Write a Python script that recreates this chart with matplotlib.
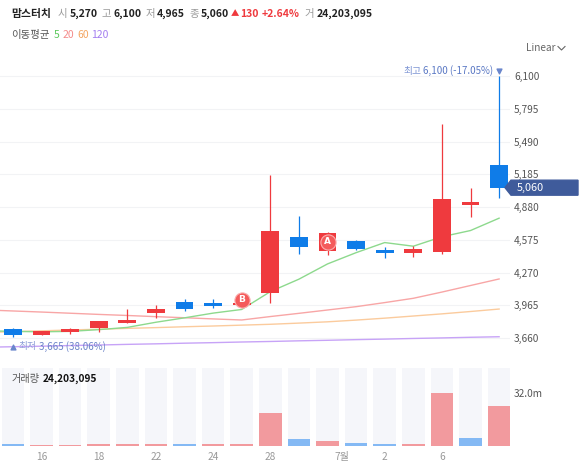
import matplotlib
matplotlib.use('Agg')
import matplotlib.pyplot as plt
from matplotlib.patches import Polygon
from matplotlib.lines import Line2D

plt.rcParams['font.family'] = ['Noto Sans CJK KR', 'DejaVu Sans']

# candles (index 0 .. 17)
opens  = [3745, 3690, 3720, 3750, 3805, 3890, 3995, 3985, 3965, 4075, 4600, 4470, 4565, 4480, 4455, 4465, 4900, 5270]
highs  = [3750, 3730, 3755, 3820, 3930, 3965, 4025, 4025, 4005, 5180, 4795, 4645, 4575, 4510, 4515, 5650, 5055, 6100]
lows   = [3665, 3685, 3695, 3715, 3800, 3850, 3910, 3940, 3955, 3985, 4440, 4430, 4480, 4405, 4415, 4440, 4785, 4965]
closes = [3690, 3725, 3740, 3815, 3825, 3930, 3930, 3960, 3985, 4655, 4510, 4640, 4485, 4455, 4485, 4950, 4930, 5060]

# moving averages, first value belongs to the day before (off screen)
ma5   = [3728, 3722, 3718, 3722, 3738, 3759, 3807, 3848, 3892, 3926, 4092, 4208, 4350, 4455, 4549, 4515, 4603, 4661, 4776]
ma20  = [3922, 3912, 3902, 3891, 3880, 3870, 3859, 3849, 3838, 3828, 3860, 3890, 3921, 3952, 3990, 4030, 4088, 4149, 4210]
ma60  = [3712, 3719, 3727, 3735, 3742, 3750, 3757, 3765, 3772, 3780, 3788, 3799, 3811, 3827, 3845, 3865, 3885, 3907, 3930]
ma120 = [3574, 3579, 3584, 3590, 3595, 3601, 3606, 3612, 3617, 3623, 3628, 3634, 3639, 3645, 3650, 3656, 3661, 3667, 3672]

# volume in millions, up = close above previous close
volume = [0.9, 0.3, 0.4, 0.8, 0.7, 0.7, 0.9, 0.7, 0.7, 20.1, 3.8, 2.8, 1.3, 0.9, 0.8, 32.0, 4.4, 24.2]
vol_up = [0, 1, 1, 1, 1, 1, 0, 1, 1, 1, 0, 1, 0, 0, 1, 1, 0, 1]

date_pos = [1, 3, 5, 7, 9, 11.5, 13, 15]
date_lbl = ['16', '18', '22', '24', '28', '7월', '2', '6']

price_ticks = [3660, 3965, 4270, 4575, 4880, 5185, 5490, 5795, 6100]

sig_idx = [8, 11]
sig_price = [4015, 4555]
sig_lbl = ['B', 'A']

RED = '#ef3a3e'
BLUE = '#0f7ce8'
W, H = 580, 469

fig = plt.figure(figsize=(W / 100, H / 100), dpi=100)
renderer = fig.canvas.get_renderer()


def px_axes(x0, y0, x1, y1):
    return fig.add_axes([x0 / W, 1 - y1 / H, (x1 - x0) / W, (y1 - y0) / H])


def ftxt(x, y, s, **kw):
    kw.setdefault('va', 'center')
    return fig.text(x / W, 1 - y / H, s, **kw)


def row(x, y, parts):
    # parts: (text, gap_after, kwargs) laid out left to right
    for s, gap, kw in parts:
        t = ftxt(x, y, s, **kw)
        x = t.get_window_extent(renderer).x1 + gap
    return x


def to_px(a, x, y):
    # data -> pixels from top-left
    px, py = a.transData.transform((x, y))
    return px, H - py


xlim = (-12.9 / 28.6, (510 - 12.9) / 28.6)

ax = px_axes(0, 60, 510, 355)
ax.set_xlim(*xlim)
ax.set_ylim(3502, 6249)
for s in ax.spines.values():
    s.set_visible(False)
for t in price_ticks:
    ax.axhline(t, color='#f2f3f5', lw=0.8, zorder=0)

xs = list(range(len(closes)))
ma_x = [-1] + xs
ax.plot(ma_x, ma120, color='#c7a3f7', lw=1.0, zorder=1)
ax.plot(ma_x, ma60, color='#fbcb9d', lw=1.0, zorder=1)
ax.plot(ma_x, ma20, color='#f8a6a6', lw=1.0, zorder=1)
ax.plot(ma_x, ma5, color='#8dd98d', lw=1.0, zorder=1)

for i in xs:
    o, h, l, c = opens[i], highs[i], lows[i], closes[i]
    col = RED if c >= o else BLUE
    ax.vlines(i, l, h, color=col, lw=0.9, zorder=2)
    lo, hi = min(o, c), max(o, c)
    if hi - lo < 25:
        mid = (hi + lo) / 2
        lo, hi = mid - 12, mid + 12
    ax.bar(i, hi - lo, bottom=lo, width=0.62, color=col, zorder=3)

for i, p, lb in zip(sig_idx, sig_price, sig_lbl):
    ax.scatter([i], [p], s=120, color='#f45b5b', edgecolor='#fbb0b0', linewidth=0.8, zorder=5)
    ax.text(i, p, lb, color='white', fontsize=6.5, fontweight='bold', ha='center', va='center', zorder=6,
            family='DejaVu Sans')

ax.set_yticks(price_ticks)
ax.set_yticklabels([f'{t:,}' for t in price_ticks])
ax.yaxis.tick_right()
ax.tick_params(axis='y', length=0, pad=3, labelsize=7.3, labelcolor='#555555')
ax.set_xticks([])

# high / low annotations
hi_i = highs.index(max(highs))
lo_i = lows.index(min(lows))
hx, hy = to_px(ax, hi_i, max(highs))
ax.scatter([hi_i], [max(highs) + 45], marker='v', s=12, color='#6a86cc', zorder=6)
hi_val = ftxt(hx - 6, hy - 5, f'{max(highs):,} (-17.05%)', color='#5a78c4', fontsize=7, ha='right')
ftxt(hi_val.get_window_extent(renderer).x0 - 2, hy - 5, '최고', color='#7d95d4', fontsize=7, ha='right')

lx, ly = to_px(ax, lo_i, min(lows))
ax.scatter([lo_i], [min(lows) - 85], marker='^', s=12, color='#6a86cc', zorder=6)
row(lx + 6, ly + 9, [('최저', 2, dict(color='#8ea0d8', fontsize=7)),
                     (f'{min(lows):,} (38.06%)', 0, dict(color='#6a82c8', fontsize=7))])

# last price tag
_, py = to_px(ax, xlim[1], closes[-1])
tag = [(505, py), (511, py - 7.5), (578, py - 7.5), (578, py + 7.5), (511, py + 7.5)]
fig.patches.append(Polygon([(x / W, 1 - y / H) for x, y in tag], closed=True,
                           transform=fig.transFigure, color='#3f5b9b', zorder=10))
ftxt(517, py, f'{closes[-1]:,}', color='white', fontsize=7.8, zorder=11)

# volume panel
axv = px_axes(0, 368, 510, 446)
axv.set_xlim(*xlim)
axv.set_ylim(-0.3, 47.5)
for s in axv.spines.values():
    s.set_visible(False)
axv.bar(xs, [47.8] * len(xs), bottom=-0.3, width=0.79, color='#f5f6fa', zorder=0)
vcol = ['#f29a9e' if u else '#84b9f4' for u in vol_up]
axv.bar(xs, volume, width=0.79, color=vcol, zorder=2)
axv.set_yticks([32.0])
axv.set_yticklabels(['32.0m'])
axv.yaxis.tick_right()
axv.tick_params(axis='y', length=0, pad=3, labelsize=7.3, labelcolor='#555555')
axv.set_xticks(date_pos)
axv.set_xticklabels(date_lbl)
axv.tick_params(axis='x', length=0, pad=4, labelsize=7.3, labelcolor='#999999')

row(12, 379, [('거래량', 3, dict(color='#555555', fontsize=7.3)),
              ('24,203,095', 0, dict(color='#111111', fontsize=7.3, fontweight='bold'))])

# header
lab = dict(color='#9a9a9a', fontsize=7.5)
val = dict(color='#222222', fontsize=7.5, fontweight='bold')
redv = dict(color=RED, fontsize=7.5, fontweight='bold')
row(11, 14, [('맘스터치', 7, dict(color='#222222', fontsize=7.8, fontweight='bold')),
             ('시', 2, lab), ('5,270', 4, val),
             ('고', 2, lab), ('6,100', 4, val),
             ('저', 2, lab), ('4,965', 4, val),
             ('종', 2, lab), ('5,060', 2, val),
             ('▲', 1, dict(color=RED, fontsize=6)), ('130', 3, redv), ('+2.64%', 5, redv),
             ('거', 2, lab), ('24,203,095', 0, val)])

row(11, 35, [('이동평균', 4, dict(color='#555555', fontsize=7.5)),
             ('5', 3, dict(color='#5cc95c', fontsize=7.5)),
             ('20', 3, dict(color='#f48a8a', fontsize=7.5)),
             ('60', 3, dict(color='#f4a560', fontsize=7.5)),
             ('120', 0, dict(color='#a47ff0', fontsize=7.5))])

ftxt(526, 48, 'Linear', color='#666666', fontsize=7.3)
fig.lines.append(Line2D([558 / W, 561.5 / W, 565 / W], [1 - 46.5 / H, 1 - 50 / H, 1 - 46.5 / H],
                        transform=fig.transFigure, color='#666666', lw=0.8))

fig.savefig('out.png', dpi=100)
